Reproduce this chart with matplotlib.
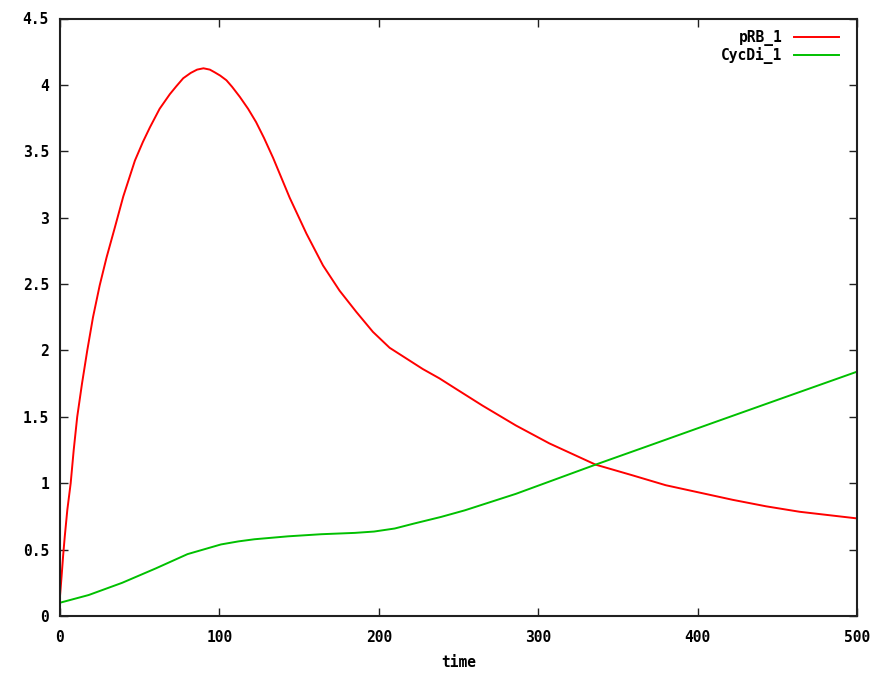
import matplotlib
matplotlib.use('Agg')
import matplotlib.pyplot as plt
from matplotlib.font_manager import FontProperties
from matplotlib.ticker import FuncFormatter

# values
prb_time = [0, 1, 2, 3, 4.6, 6.7, 8.6, 10.8, 13.8, 17.1, 20.7, 24.9, 29.2,
            34.5, 39.7, 47, 52, 56.4, 62.5, 68.9, 73, 77.3, 82, 86, 90, 94,
            97, 100.5, 104.4, 108, 112.8, 118, 123, 128, 133.7, 144.1, 154.6,
            165, 175.4, 185.9, 196.3, 206.8, 217.2, 227.6, 238, 248.5, 265,
            286, 307, 336, 359, 380, 401, 422, 443, 464, 482, 500]
prb_vals = [0.15, 0.3, 0.46, 0.6, 0.8, 1.0, 1.25, 1.5, 1.75, 2.0, 2.25, 2.49,
            2.70, 2.93, 3.16, 3.43, 3.57, 3.68, 3.82, 3.93, 3.99, 4.05, 4.09,
            4.115, 4.125, 4.115, 4.095, 4.07, 4.035, 3.985, 3.91, 3.82, 3.72,
            3.60, 3.45, 3.15, 2.88, 2.64, 2.45, 2.29, 2.14, 2.02, 1.94, 1.86,
            1.79, 1.71, 1.585, 1.435, 1.30, 1.14, 1.06, 0.985, 0.93, 0.875,
            0.826, 0.785, 0.76, 0.735]

cyc_time = [0, 18, 39, 60, 80, 101, 112, 122, 143, 164, 185, 197, 210, 222,
            239, 254, 286, 336, 370, 412, 453, 500]
cyc_vals = [0.10, 0.158, 0.25, 0.358, 0.466, 0.539, 0.562, 0.578, 0.60, 0.616,
            0.626, 0.636, 0.659, 0.696, 0.746, 0.796, 0.92, 1.14, 1.285, 1.465,
            1.64, 1.84]

x_ticks = [0, 100, 200, 300, 400, 500]
y_ticks = [0, 0.5, 1, 1.5, 2, 2.5, 3, 3.5, 4, 4.5]

font = {'family': 'DejaVu Sans Mono', 'weight': 'bold', 'size': 10.5}

fig = plt.figure(figsize=(8.91, 6.77), dpi=100)
ax = fig.add_axes([60 / 891, 61 / 677, 797 / 891, 597.5 / 677])

ax.plot(prb_time, prb_vals, color='#ff0000', lw=1.4, label='pRB_1')
ax.plot(cyc_time, cyc_vals, color='#00c000', lw=1.4, label='CycDi_1')

ax.set_xlim(0, 500)
ax.set_ylim(0, 4.5)
ax.set_xticks(x_ticks)
ax.set_yticks(y_ticks)
ax.yaxis.set_major_formatter(FuncFormatter(lambda v, p: '%g' % v))
ax.tick_params(direction='in', length=6, width=1, top=True, right=True,
               labeltop=False, labelright=False, color='#202020')
ax.tick_params(axis='x', pad=10)
ax.tick_params(axis='y', pad=8)
for lab in ax.get_xticklabels() + ax.get_yticklabels():
    lab.set_fontproperties(FontProperties(**font))
for sp in ax.spines.values():
    sp.set_linewidth(1.5)
    sp.set_color('#202020')

ax.set_xlabel('time', fontdict=font, labelpad=7)

leg = ax.legend(loc='upper right', frameon=False, markerfirst=False,
                prop=FontProperties(**font), handlelength=3.1,
                handletextpad=0.8, labelspacing=0.1,
                bbox_to_anchor=(0.994, 1.003))

fig.savefig('out.png', dpi=100)
